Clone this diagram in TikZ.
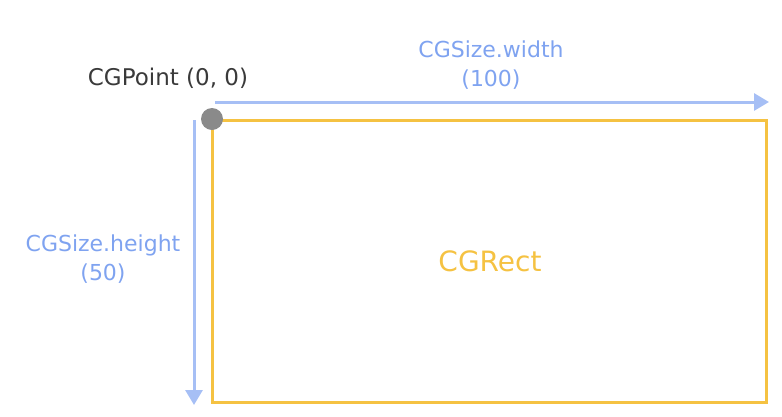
\documentclass[tikz,border=0pt]{standalone}
\usepackage{fontspec}
\setmainfont{DejaVu Sans}
\usetikzlibrary{arrows.meta}
\definecolor{rectyellow}{HTML}{F5C242}
\definecolor{arrowblue}{HTML}{A6BFF5}
\definecolor{textblue}{HTML}{7FA3F0}
\definecolor{dotgrey}{HTML}{8A8A8A}
\definecolor{textgrey}{HTML}{3A3A3A}
\tikzset{
  x=1pt, y=-1pt,
  lbl/.style={font=\fontsize{22}{29}\selectfont, inner sep=0pt, align=center},
  dimarrow/.style={draw=arrowblue, line width=3pt, -{Triangle[length=15pt,width=17pt]}},
}
\begin{document}
\begin{tikzpicture}
\useasboundingbox (0,0) rectangle (782,416);
\coordinate (tl) at (212,120);
\coordinate (br) at (766,402);
\draw[rectyellow, line width=3pt] (tl) rectangle (br);
\coordinate (hs) at (215,102);
\coordinate (he) at (769,102);
\coordinate (vs) at (194,120);
\coordinate (ve) at (194,405);
\draw[dimarrow] (hs) -- (he);
\draw[dimarrow] (vs) -- (ve);
\node[circle, fill=dotgrey, minimum size=22pt, inner sep=0pt] (dot) at (212,119) {};
\node[lbl, text=textgrey, font=\fontsize{23}{29}\selectfont] (pt) at (168,78) {CGPoint (0, 0)};
\node[lbl, text=textblue] (w) at (491,65) {CGSize.width\\(100)};
\node[lbl, text=textblue] (h) at (103,259) {CGSize.height\\(50)};
\node[lbl, text=rectyellow, font=\fontsize{28}{30}\selectfont] (r) at (490,261) {CGRect};
\end{tikzpicture}
\end{document}
